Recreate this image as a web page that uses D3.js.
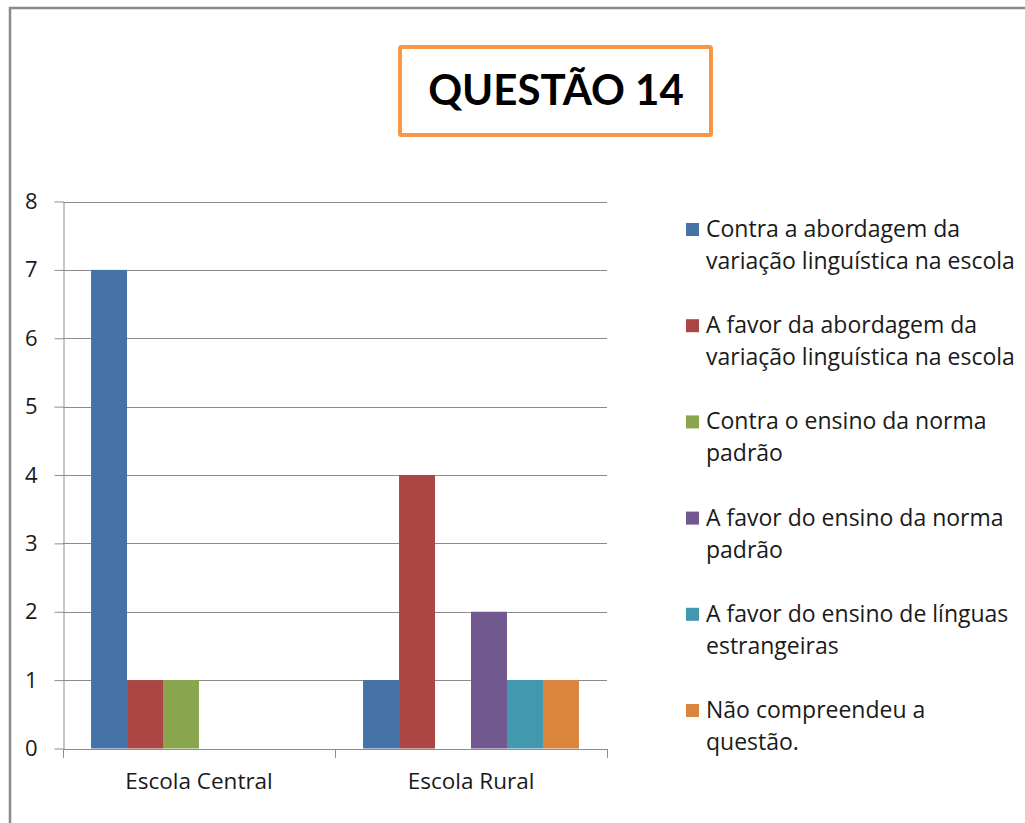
<!DOCTYPE html>
<html>
<head>
<meta charset="utf-8">
<script src="https://cdn.jsdelivr.net/npm/d3@7"></script>
<style>
  html, body { margin: 0; padding: 0; background: #ffffff; }
  svg { display: block; }
</style>
</head>
<body>
<svg id="chart" width="1025" height="823"></svg>
<script>
// ---- data ----
const categories = ["Escola Central", "Escola Rural"];
const seriesNames = [
  "Contra a abordagem da|variação linguística na escola",
  "A favor da abordagem da|variação linguística na escola",
  "Contra o ensino da norma|padrão",
  "A favor do ensino da norma|padrão",
  "A favor do ensino de línguas|estrangeiras",
  "Não compreendeu a|questão."
];
const seriesColors = ["#4572A7", "#AA4643", "#89A54E", "#71588F", "#4198AF", "#DB843D"];
const valuesCentral = [7, 1, 1, 0, 0, 0];
const valuesRural = [1, 4, 0, 2, 1, 1];
const yTicks = [0, 1, 2, 3, 4, 5, 6, 7, 8];
const titleText = "QUESTÃO 14";

const values = [valuesCentral, valuesRural];

const svg = d3.select("#chart");
const font = "'Open Sans', Lato, sans-serif";
const titleFont = "Lato, 'Open Sans', sans-serif";

// outer frame (top + left edges visible)
svg.append("path")
  .attr("d", "M10,830 L10,8 L1030,8")
  .attr("fill", "none")
  .attr("stroke", "#8a8a8a")
  .attr("stroke-width", 2.5);

// title box
svg.append("rect")
  .attr("x", 400).attr("y", 47)
  .attr("width", 311).attr("height", 88)
  .attr("fill", "#ffffff")
  .attr("stroke", "#F79646")
  .attr("stroke-width", 4)
  .attr("rx", 1.5);
svg.append("text")
  .attr("x", 556).attr("y", 105)
  .attr("text-anchor", "middle")
  .attr("font-family", titleFont)
  .attr("font-weight", "bold")
  .attr("font-size", 42)
  .attr("fill", "#000")
  .text(titleText);

// plot
const plotL = 63, plotR = 607, plotT = 201.5, plotB = 748.5;

const y = d3.scaleLinear().domain([0, 8]).range([plotB, plotT]);
const x0 = d3.scaleBand().domain(categories).range([plotL, plotR]).paddingInner(0).paddingOuter(0);
const x1 = d3.scaleBand().domain(d3.range(seriesNames.length)).range([0, x0.bandwidth()])
  .paddingInner(0).paddingOuter(0.78);

// gridlines
svg.append("g")
  .selectAll("line")
  .data(yTicks.filter(d => d > 0))
  .join("line")
  .attr("x1", plotL).attr("x2", plotR)
  .attr("y1", d => Math.round(y(d)) + 0.5).attr("y2", d => Math.round(y(d)) + 0.5)
  .attr("stroke", "#8c8c8c")
  .attr("stroke-width", 1);

// bars
const groups = svg.append("g")
  .selectAll("g")
  .data(categories)
  .join("g")
  .attr("transform", d => `translate(${x0(d)},0)`);

groups.selectAll("rect")
  .data((d, i) => values[i].map((v, j) => ({ v, j })))
  .join("rect")
  .attr("x", d => x1(d.j))
  .attr("width", x1.bandwidth())
  .attr("y", d => y(d.v))
  .attr("height", d => y(0) - y(d.v))
  .attr("fill", d => seriesColors[d.j]);

// y axis
const yAxis = svg.append("g")
  .attr("transform", `translate(${plotL + 0.5},0)`)
  .call(d3.axisLeft(y).tickValues(yTicks).tickFormat(d3.format("d")).tickSizeInner(9).tickSizeOuter(0).tickPadding(17));
yAxis.select(".domain").attr("stroke", "#8c8c8c");
yAxis.selectAll(".tick line").attr("stroke", "#8c8c8c");
yAxis.selectAll(".tick text")
  .attr("font-family", font)
  .attr("font-size", 22)
  .attr("fill", "#1a1a1a");

// x axis
const xTickPositions = [plotL, x0(categories[1]), plotR];
const xAxis = svg.append("g")
  .attr("transform", `translate(0,${plotB + 0.5})`)
  .call(d3.axisBottom(x0).tickSize(0).tickPadding(24));
xAxis.select(".domain").attr("stroke", "#8c8c8c");
xAxis.selectAll(".tick text")
  .attr("font-family", font)
  .attr("font-size", 22.5)
  .attr("fill", "#1a1a1a");
xAxis.selectAll(".sep")
  .data(xTickPositions)
  .join("line")
  .attr("class", "sep")
  .attr("x1", d => Math.round(d) + 0.5).attr("x2", d => Math.round(d) + 0.5)
  .attr("y1", 0).attr("y2", 9)
  .attr("stroke", "#8c8c8c");

// legend
const legend = svg.append("g").attr("transform", "translate(686,0)");
const item = legend.selectAll("g")
  .data(seriesNames)
  .join("g")
  .attr("transform", (d, i) => `translate(0,${237 + i * 96.2})`);
item.append("rect")
  .attr("x", 0).attr("y", -14)
  .attr("width", 13).attr("height", 13)
  .attr("fill", (d, i) => seriesColors[i]);
item.append("text")
  .attr("font-family", font)
  .attr("font-size", 23)
  .attr("fill", "#1a1a1a")
  .selectAll("tspan")
  .data(d => d.split("|"))
  .join("tspan")
  .attr("x", 20)
  .attr("dy", (d, i) => i === 0 ? 0 : 32)
  .text(d => d);
</script>
</body>
</html>
